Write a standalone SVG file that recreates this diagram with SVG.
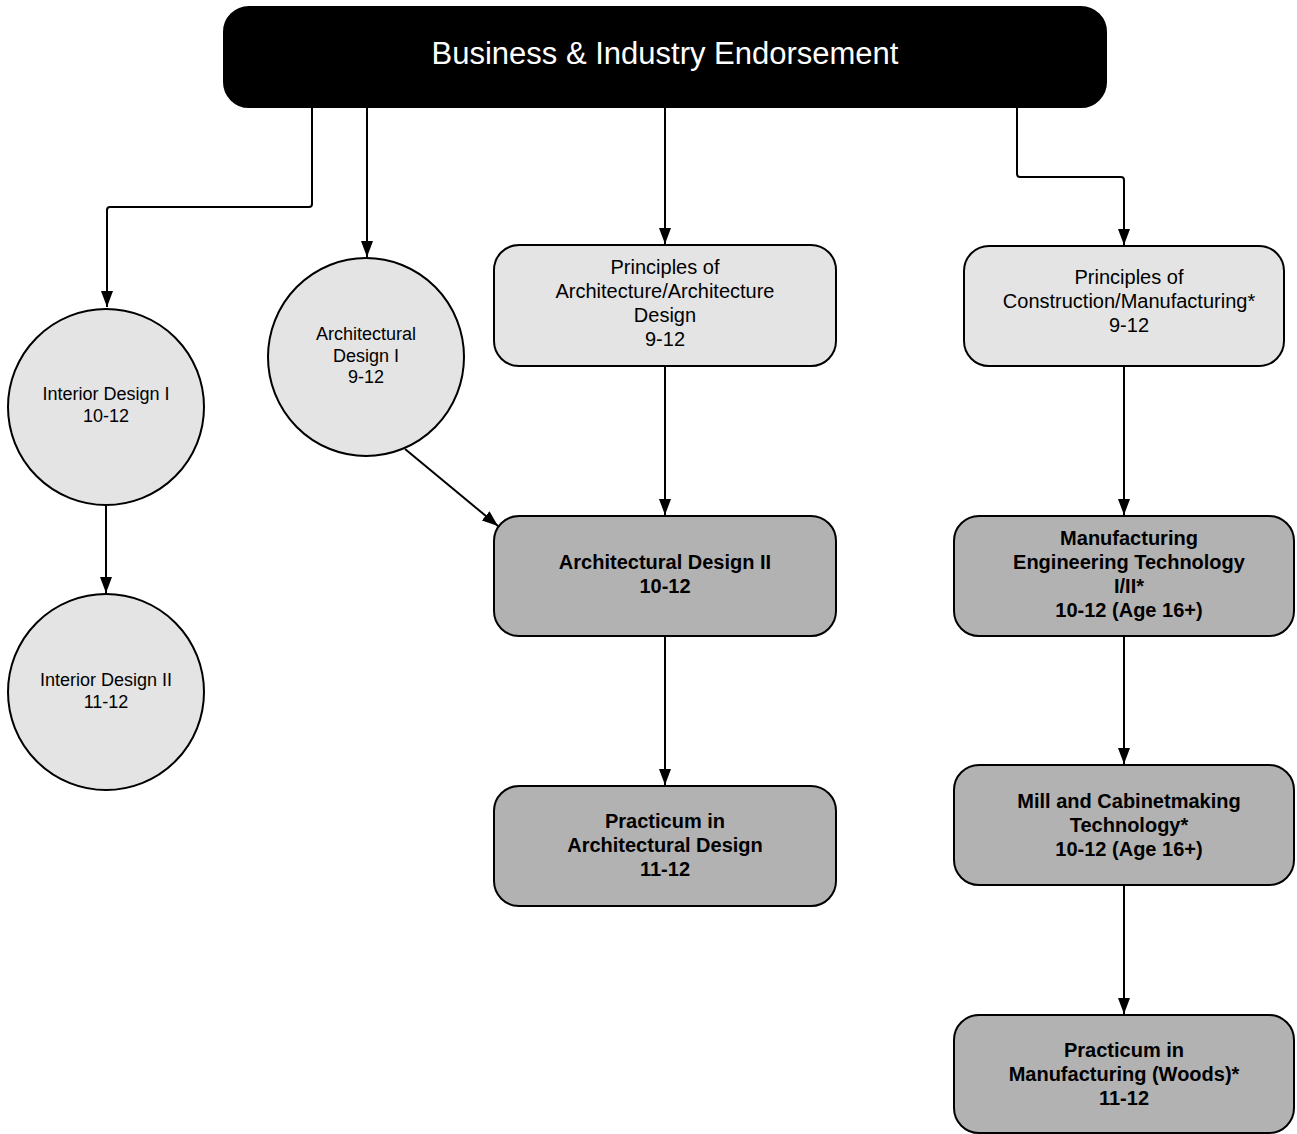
<svg xmlns="http://www.w3.org/2000/svg" width="1297" height="1134" viewBox="0 0 1297 1134">
<defs>
<marker id="arr" markerUnits="userSpaceOnUse" markerWidth="16" markerHeight="12" refX="16" refY="6" orient="auto">
<path d="M0,0 L16,6 L0,12 z" fill="#000"/>
</marker>
<style>
.c{fill:none;stroke:#000;stroke-width:2;marker-end:url(#arr)}
.lt{fill:#e4e4e4;stroke:#000;stroke-width:2}
.dk{fill:#b2b2b2;stroke:#000;stroke-width:2}
text{font-family:"Liberation Sans",Arial,sans-serif;text-anchor:middle;fill:#000}
.r{font-size:20px}
.s{font-size:18px}
.b{font-size:20px;font-weight:bold}
</style>
</defs>
<rect width="1297" height="1134" fill="#fff"/>
<g id="connectors">
<path class="c" d="M312,107 V204 Q312,207 309,207 H110 Q107,207 107,210 V307"/>
<path class="c" d="M367,107 V257"/>
<path class="c" d="M665,107 V244"/>
<path class="c" d="M1017,107 V174 Q1017,177 1020,177 H1121 Q1124,177 1124,180 V245"/>
<path class="c" d="M106,506 V593"/>
<path class="c" d="M405,449 L498,526"/>
<path class="c" d="M665,366 V515"/>
<path class="c" d="M665,636 V785"/>
<path class="c" d="M1124,366 V515"/>
<path class="c" d="M1124,636 V764"/>
<path class="c" d="M1124,885 V1014"/>
</g>
<g id="top">
<rect x="224" y="7" width="882" height="100" rx="25" fill="#000" stroke="#000" stroke-width="2"/>
<text x="665" y="64" style="font-size:31px;fill:#fff">Business &amp; Industry Endorsement</text>
</g>
<g id="interior1">
<circle class="lt" cx="106" cy="407" r="98"/>
<text class="s" x="106" y="400">Interior Design I</text>
<text class="s" x="106" y="422">10-12</text>
</g>
<g id="interior2">
<circle class="lt" cx="106" cy="692" r="98"/>
<text class="s" x="106" y="686">Interior Design II</text>
<text class="s" x="106" y="708">11-12</text>
</g>
<g id="arch1">
<ellipse class="lt" cx="366" cy="357" rx="98" ry="99"/>
<text class="s" x="366" y="340">Architectural</text>
<text class="s" x="366" y="362">Design I</text>
<text class="s" x="366" y="383">9-12</text>
</g>
<g id="princArch">
<rect class="lt" x="494" y="245" width="342" height="121" rx="25"/>
<text class="r" x="665" y="274">Principles of</text>
<text class="r" x="665" y="298">Architecture/Architecture</text>
<text class="r" x="665" y="322">Design</text>
<text class="r" x="665" y="346">9-12</text>
</g>
<g id="princCons">
<rect class="lt" x="964" y="246" width="320" height="120" rx="25"/>
<text class="r" x="1129" y="284">Principles of</text>
<text class="r" x="1129" y="308">Construction/Manufacturing*</text>
<text class="r" x="1129" y="332">9-12</text>
</g>
<g id="arch2">
<rect class="dk" x="494" y="516" width="342" height="120" rx="25"/>
<text class="b" x="665" y="569">Architectural Design II</text>
<text class="b" x="665" y="593">10-12</text>
</g>
<g id="pracArch">
<rect class="dk" x="494" y="786" width="342" height="120" rx="25"/>
<text class="b" x="665" y="828">Practicum in</text>
<text class="b" x="665" y="852">Architectural Design</text>
<text class="b" x="665" y="876">11-12</text>
</g>
<g id="manuEng">
<rect class="dk" x="954" y="516" width="340" height="120" rx="25"/>
<text class="b" x="1129" y="545">Manufacturing</text>
<text class="b" x="1129" y="569">Engineering Technology</text>
<text class="b" x="1129" y="593">I/II*</text>
<text class="b" x="1129" y="617">10-12 (Age 16+)</text>
</g>
<g id="mill">
<rect class="dk" x="954" y="765" width="340" height="120" rx="25"/>
<text class="b" x="1129" y="808">Mill and Cabinetmaking</text>
<text class="b" x="1129" y="832">Technology*</text>
<text class="b" x="1129" y="856">10-12 (Age 16+)</text>
</g>
<g id="pracManu">
<rect class="dk" x="954" y="1015" width="340" height="118" rx="25"/>
<text class="b" x="1124" y="1057">Practicum in</text>
<text class="b" x="1124" y="1081">Manufacturing (Woods)*</text>
<text class="b" x="1124" y="1105">11-12</text>
</g>
</svg>
